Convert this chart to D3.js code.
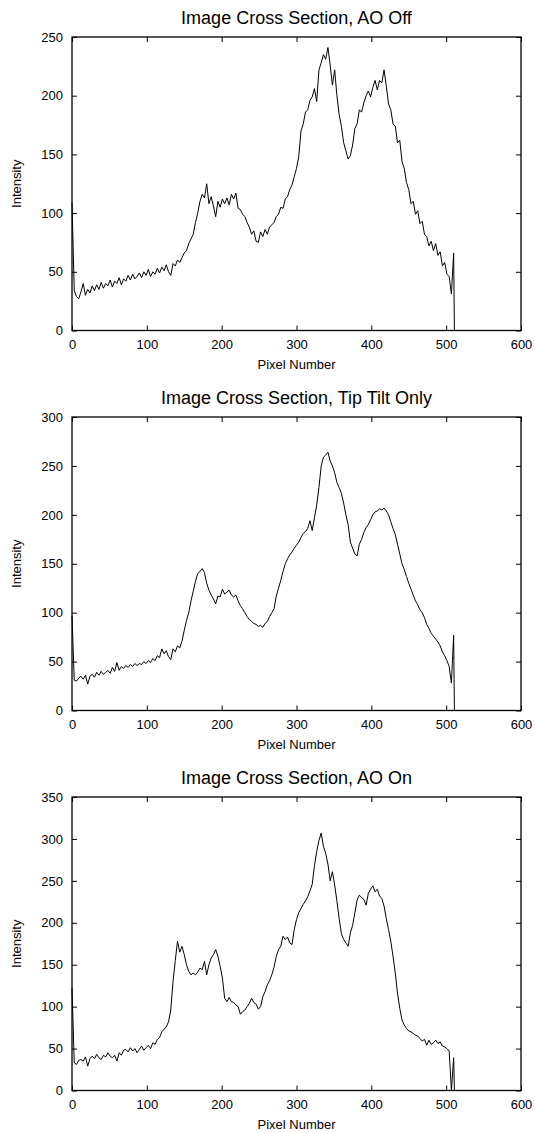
<!DOCTYPE html>
<html>
<head>
<meta charset="utf-8">
<script src="https://cdn.jsdelivr.net/npm/d3@7"></script>
<style>
  html, body { margin: 0; padding: 0; background: #fff; }
  svg { display: block; font-family: "Liberation Sans", Arial, Helvetica, sans-serif; }
  .tick text { font-size: 13px; fill: #000; }
  .tick line { stroke: #000; stroke-width: 1; }
</style>
</head>
<body>
<svg id="chart" width="535" height="1133"></svg>
<script>
// Detector pixel positions sampled along the cross section (every 3rd pixel, plus the last one)
const pixelNumber = d3.range(0, 511, 3).concat([511]);

// Intensity along the cross section with adaptive optics switched off
const intensityAOOff = [
  109, 34, 29, 27, 33, 40, 30, 35, 32, 38,
  34, 39, 35, 41, 36, 40, 38, 43, 37, 42,
  40, 45, 39, 44, 42, 47, 43, 48, 44, 46,
  49, 45, 50, 47, 52, 46, 50, 48, 53, 49,
  54, 51, 56, 50, 47, 57, 55, 60, 58, 62,
  66, 68, 74, 78, 82, 92, 100, 110, 116, 113,
  125, 108, 114, 106, 97, 110, 105, 112, 108, 113,
  107, 116, 112, 117, 104, 103, 99, 97, 92, 88,
  82, 85, 76, 75, 84, 80, 86, 82, 88, 90,
  92, 97, 99, 105, 104, 112, 114, 120, 124, 131,
  138, 148, 170, 176, 186, 188, 196, 199, 206, 195,
  222, 228, 235, 231, 241, 226, 209, 222, 200, 184,
  174, 160, 153, 146, 149, 158, 172, 176, 188, 186,
  194, 200, 204, 199, 207, 213, 205, 213, 211, 222,
  208, 193, 188, 176, 174, 160, 162, 144, 138, 126,
  120, 108, 110, 99, 102, 91, 93, 82, 80, 72,
  76, 68, 74, 64, 67, 55, 58, 48, 46, 31,
  66, 0
];

// Intensity with tip/tilt correction only
const intensityTipTilt = [
  97, 31, 30, 33, 35, 32, 36, 27, 35, 37,
  34, 39, 36, 40, 37, 39, 41, 38, 44, 40,
  49, 41, 45, 43, 46, 44, 47, 45, 48, 46,
  48, 47, 50, 48, 51, 49, 53, 51, 56, 54,
  63, 58, 61, 55, 52, 63, 60, 66, 64, 71,
  82, 92, 100, 112, 122, 132, 140, 142, 145, 141,
  130, 123, 118, 114, 109, 117, 116, 124, 119, 121,
  123, 118, 116, 118, 112, 107, 104, 100, 96, 93,
  91, 89, 88, 86, 87, 85, 89, 91, 96, 100,
  104, 117, 125, 133, 142, 150, 155, 159, 162, 166,
  169, 172, 177, 181, 183, 186, 194, 184, 197, 210,
  228, 250, 259, 261, 264, 255, 250, 243, 233, 228,
  222, 212, 200, 190, 172, 166, 160, 158, 170, 175,
  182, 187, 190, 195, 200, 203, 204, 206, 205, 207,
  204, 200, 193, 186, 180, 170, 160, 150, 144, 137,
  130, 124, 118, 112, 108, 103, 100, 95, 88, 84,
  79, 76, 73, 70, 66, 60, 56, 51, 45, 28,
  77, 0
];

// Intensity with full adaptive optics correction
const intensityAOOn = [
  122, 33, 31, 36, 37, 35, 40, 29, 38, 41,
  38, 43, 39, 37, 42, 40, 45, 41, 39, 42,
  35, 45, 42, 48, 49, 46, 51, 47, 50, 45,
  49, 53, 48, 51, 54, 50, 57, 55, 61, 63,
  70, 73, 76, 82, 96, 130, 155, 178, 165, 172,
  162, 150, 142, 138, 140, 138, 141, 146, 144, 154,
  138, 150, 158, 162, 168, 160, 148, 134, 110, 106,
  111, 106, 105, 102, 100, 91, 94, 96, 100, 104,
  110, 105, 103, 97, 100, 112, 118, 126, 131, 138,
  147, 160, 168, 172, 184, 180, 183, 176, 174, 192,
  204, 212, 217, 222, 226, 231, 238, 246, 268, 285,
  298, 307, 291, 283, 270, 250, 261, 245, 226, 205,
  187, 180, 176, 172, 188, 197, 212, 227, 233, 230,
  228, 221, 235, 240, 244, 237, 240, 232, 229, 220,
  205, 192, 178, 160, 140, 116, 98, 84, 78, 74,
  71, 70, 68, 66, 65, 62, 59, 61, 54, 60,
  55, 57, 60, 56, 58, 53, 52, 50, 47, 0,
  39, 0
];

const panelTitles = [
  "Image Cross Section, AO Off",
  "Image Cross Section, Tip Tilt Only",
  "Image Cross Section, AO On"
];
const xTicks = [0, 100, 200, 300, 400, 500, 600];
const yTicksAOOff = [0, 50, 100, 150, 200, 250];
const yTicksTipTilt = [0, 50, 100, 150, 200, 250, 300];
const yTicksAOOn = [0, 50, 100, 150, 200, 250, 300, 350];
const xLabel = "Pixel Number";
const yLabel = "Intensity";

const panels = [
  { title: panelTitles[0], values: intensityAOOff, yTicks: yTicksAOOff, top: 37 },
  { title: panelTitles[1], values: intensityTipTilt, yTicks: yTicksTipTilt, top: 417 },
  { title: panelTitles[2], values: intensityAOOn, yTicks: yTicksAOOn, top: 797 }
];

const svg = d3.select("#chart");
const left = 72, right = 521, plotH = 293.5, tickLen = 5;

const x = d3.scaleLinear().domain([0, 600]).range([left, right]);

panels.forEach(p => {
  const bottom = p.top + plotH;
  const y = d3.scaleLinear()
    .domain([0, d3.max(p.yTicks)])
    .range([bottom, p.top]);
  const g = svg.append("g");

  // inward ticks on all four sides, labels on left and bottom
  g.append("g").attr("transform", `translate(0,${bottom})`)
    .call(d3.axisBottom(x).tickValues(xTicks).tickSize(-tickLen).tickPadding(9).tickSizeOuter(0))
    .call(a => a.select(".domain").remove());
  g.append("g").attr("transform", `translate(0,${p.top})`)
    .call(d3.axisTop(x).tickValues(xTicks).tickSize(-tickLen).tickFormat("").tickSizeOuter(0))
    .call(a => a.select(".domain").remove());
  g.append("g").attr("transform", `translate(${left},0)`)
    .call(d3.axisLeft(y).tickValues(p.yTicks).tickSize(-tickLen).tickPadding(9).tickSizeOuter(0))
    .call(a => a.select(".domain").remove());
  g.append("g").attr("transform", `translate(${right},0)`)
    .call(d3.axisRight(y).tickValues(p.yTicks).tickSize(-tickLen).tickFormat("").tickSizeOuter(0))
    .call(a => a.select(".domain").remove());

  // data trace
  const line = d3.line()
    .x((d, i) => x(pixelNumber[i]))
    .y(d => y(d));
  g.append("path")
    .datum(p.values)
    .attr("fill", "none")
    .attr("stroke", "#000")
    .attr("stroke-width", 1)
    .attr("stroke-linejoin", "miter")
    .attr("d", line);

  // plot frame
  g.append("rect")
    .attr("x", left).attr("y", p.top)
    .attr("width", right - left).attr("height", plotH)
    .attr("fill", "none").attr("stroke", "#000").attr("stroke-width", 1.3);

  // title
  g.append("text")
    .attr("x", (left + right) / 2).attr("y", p.top - 13)
    .attr("text-anchor", "middle")
    .attr("font-size", 18)
    .text(p.title);

  // axis titles
  g.append("text")
    .attr("x", (left + right) / 2).attr("y", bottom + 38)
    .attr("text-anchor", "middle")
    .attr("font-size", 13)
    .text(xLabel);
  g.append("text")
    .attr("transform", `translate(21,${(p.top + bottom) / 2}) rotate(-90)`)
    .attr("text-anchor", "middle")
    .attr("font-size", 13)
    .text(yLabel);
});
</script>
</body>
</html>
